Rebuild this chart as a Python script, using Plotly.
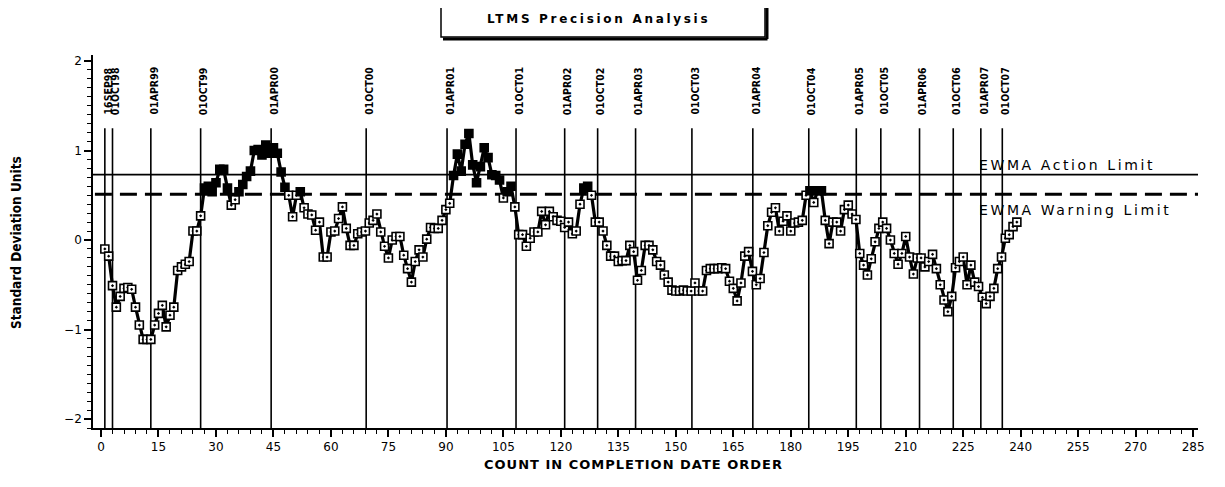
import plotly.graph_objects as go

# ---------------- data ----------------
ewma = [
    -0.10, -0.18, -0.51, -0.75, -0.63, -0.54, -0.53, -0.55, -0.75, -0.95,
    -1.11, -1.11, -1.11, -0.95, -0.82, -0.73, -0.97, -0.84, -0.75, -0.34,
    -0.30, -0.27, -0.24, 0.10, 0.10, 0.27, 0.58, 0.60, 0.54, 0.64,
    0.79, 0.79, 0.58, 0.39, 0.45, 0.54, 0.62, 0.71, 0.77, 1.00,
    1.01, 0.95, 1.06, 0.97, 1.03, 0.97, 0.76, 0.59, 0.50, 0.26,
    0.50, 0.54, 0.36, 0.29, 0.28, 0.11, 0.20, -0.19, -0.19, 0.09,
    0.10, 0.24, 0.37, 0.13, -0.06, -0.06, 0.07, 0.09, 0.10, 0.19,
    0.22, 0.29, 0.09, -0.07, -0.20, 0.00, 0.04, 0.04, -0.17, -0.32,
    -0.47, -0.24, -0.11, -0.19, 0.01, 0.14, 0.13, 0.13, 0.22, 0.34,
    0.41, 0.72, 0.96, 0.77, 1.07, 1.19, 0.84, 0.64, 0.82, 1.03,
    0.92, 0.73, 0.72, 0.67, 0.47, 0.54, 0.60, 0.37, 0.06, 0.06,
    -0.07, 0.02, 0.09, 0.09, 0.32, 0.17, 0.32, 0.26, 0.22, 0.21,
    0.14, 0.20, 0.07, 0.10, 0.40, 0.58, 0.60, 0.50, 0.20, 0.20,
    0.10, -0.06, -0.18, -0.18, -0.24, -0.23, -0.23, -0.06, -0.13, -0.45,
    -0.34, -0.06, -0.06, -0.11, -0.24, -0.28, -0.39, -0.47, -0.56, -0.57,
    -0.57, -0.56, -0.57, -0.57, -0.48, -0.57, -0.57, -0.34, -0.32, -0.32,
    -0.32, -0.31, -0.32, -0.46, -0.54, -0.68, -0.48, -0.18, -0.13, -0.35,
    -0.50, -0.43, -0.14, 0.16, 0.31, 0.36, 0.10, 0.21, 0.27, 0.10,
    0.19, 0.20, 0.22, 0.50, 0.55, 0.42, 0.55, 0.55, 0.22, -0.04,
    0.20, 0.20, 0.10, 0.34, 0.39, 0.29, 0.23, -0.15, -0.28, -0.39,
    -0.21, -0.02, 0.13, 0.20, 0.13, 0.00, -0.15, -0.27, -0.15, 0.04,
    -0.19, -0.38, -0.20, -0.20, -0.30, -0.24, -0.16, -0.32, -0.50, -0.67,
    -0.80, -0.63, -0.31, -0.24, -0.19, -0.50, -0.28, -0.47, -0.52, -0.64,
    -0.71, -0.63, -0.54, -0.32, -0.19, 0.02, 0.06, 0.15, 0.20,
]
counts = list(range(1, len(ewma) + 1))

date_labels = ["16SEP98", "01OCT98", "01APR99", "01OCT99", "01APR00", "01OCT00",
               "01APR01", "01OCT01", "01APR02", "01OCT02", "01APR03", "01OCT03",
               "01APR04", "01OCT04", "01APR05", "01OCT05", "01APR06", "01OCT06",
               "01APR07", "01OCT07"]
date_counts = [1, 3, 13, 26, 44.4, 69.2, 90.3, 108.3, 121, 129.6, 139.5, 154.2,
               170.1, 184.7, 197.1, 203.5, 213.6, 222.4, 229.6, 235.2]

action_limit = 0.73
warning_limit = 0.51

x_ticks = list(range(0, 286, 15))
y_ticks = [-2, -1, 0, 1, 2]

# ---------------- layout geometry (page pixels) ----------------
PAGE_W, PAGE_H = 1225, 487
OFF = 8                      # default body margin of the html page
W, H = PAGE_W - 2 * OFF, PAGE_H - 2 * OFF
L, R, T, B = 93, 1198, 55, 428
XR = [-2.09, 286.27]
YR = [-2.10, 2.067]

WIDE = "DejaVu Sans, Verdana, sans-serif"
NARROW = "Liberation Sans Narrow, Arial Narrow, DejaVu Sans Condensed, sans-serif"


def xp(px):
    return (px - L) / (R - L)


def yp(py):
    return (B - py) / (B - T)


def spaced(txt, px):
    return '<span style="letter-spacing:%spx">%s</span>' % (px, txt)


fig = go.Figure()

symbols = ["square" if v > warning_limit else "square-dot" for v in ewma]
fills = ["black" if v > warning_limit else "white" for v in ewma]

fig.add_trace(go.Scatter(
    x=counts, y=ewma, mode="lines+markers",
    line=dict(color="black", width=3.2),
    marker=dict(symbol=symbols, color=fills, size=8,
                line=dict(color="black", width=1.6)),
    showlegend=False, hoverinfo="x+y",
))

shapes = []
shapes.append(dict(type="line", xref="x", yref="y", x0=XR[0], x1=XR[1],
                   y0=action_limit, y1=action_limit,
                   line=dict(color="black", width=1.8), layer="below"))
shapes.append(dict(type="line", xref="x", yref="y", x0=XR[0] + 0.5, x1=XR[1],
                   y0=warning_limit, y1=warning_limit,
                   line=dict(color="black", width=3, dash="17px,8px"), layer="below"))
for dc in date_counts:
    shapes.append(dict(type="line", xref="x", yref="y", x0=dc, x1=dc,
                       y0=YR[0], y1=1.25, line=dict(color="black", width=1.6),
                       layer="below"))
# title box with shadow
shapes.append(dict(type="rect", xref="paper", yref="paper",
                   x0=xp(441), x1=xp(765), y0=yp(37), y1=yp(-2),
                   line=dict(color="black", width=1.5), fillcolor="white"))
shapes.append(dict(type="line", xref="paper", yref="paper",
                   x0=xp(443), x1=xp(767.5), y0=yp(39), y1=yp(39),
                   line=dict(color="black", width=3)))
shapes.append(dict(type="line", xref="paper", yref="paper",
                   x0=xp(767), x1=xp(767), y0=yp(1), y1=yp(39),
                   line=dict(color="black", width=3)))

annotations = []
for lab, dc in zip(date_labels, date_counts):
    annotations.append(dict(
        x=dc + 0.7, y=yp(117), xref="x", yref="paper", text="<b>" + lab + "</b>",
        textangle=-90, showarrow=False, xanchor="center", yanchor="bottom",
        font=dict(family=NARROW, size=10.5, color="black")))

annotations.append(dict(x=xp(598), y=yp(19), xref="paper", yref="paper",
                        text="<b>" + spaced("LTMS Precision Analysis", 2.7) + "</b>",
                        showarrow=False, xanchor="center", yanchor="middle",
                        font=dict(family=WIDE, size=12, color="black")))
annotations.append(dict(x=xp(977), y=yp(165), xref="paper", yref="paper",
                        text=spaced("EWMA Action Limit", 2.6), showarrow=False,
                        xanchor="left", yanchor="middle",
                        font=dict(family=WIDE, size=14, color="black")))
annotations.append(dict(x=xp(977), y=yp(210), xref="paper", yref="paper",
                        text=spaced("EWMA Warning Limit", 2.6), showarrow=False,
                        xanchor="left", yanchor="middle",
                        font=dict(family=WIDE, size=14, color="black")))
annotations.append(dict(x=xp(633), y=yp(464), xref="paper", yref="paper",
                        text="<b>" + spaced("COUNT IN COMPLETION DATE ORDER", 1) + "</b>",
                        showarrow=False, xanchor="center", yanchor="middle",
                        font=dict(family=WIDE, size=13, color="black")))
annotations.append(dict(x=xp(16), y=yp(243), xref="paper", yref="paper",
                        text="<b>Standard Deviation Units</b>", showarrow=False,
                        textangle=-90, xanchor="center", yanchor="middle",
                        font=dict(family=NARROW, size=13.5, color="black")))

fig.update_layout(
    width=W, height=H,
    margin=dict(l=L - OFF, r=W - (R - OFF), t=T - OFF, b=H - (B - OFF),
                pad=0, autoexpand=False),
    paper_bgcolor="white", plot_bgcolor="white",
    shapes=shapes, annotations=annotations,
    xaxis=dict(range=XR, tickmode="array", tickvals=x_ticks,
               ticktext=[str(v) for v in x_ticks], automargin=False,
               ticks="outside", ticklen=7, tickwidth=1.5, tickcolor="black",
               showline=True, linecolor="black", linewidth=1.6,
               showgrid=False, zeroline=False,
               tickfont=dict(family=WIDE, size=12, color="black"),
               minor=dict(dtick=3, tick0=0, ticks="outside", ticklen=4,
                          tickwidth=1.2, tickcolor="black", showgrid=False)),
    yaxis=dict(range=YR, tickmode="array", tickvals=y_ticks,
               ticktext=["\u22122", "\u22121", "0", "1", "2"], automargin=False,
               ticks="outside", ticklen=7, tickwidth=1.5, tickcolor="black",
               showline=True, linecolor="black", linewidth=1.6,
               showgrid=False, zeroline=False,
               tickfont=dict(family=WIDE, size=12, color="black"),
               minor=dict(dtick=0.1, tick0=0, ticks="outside", ticklen=4,
                          tickwidth=1.2, tickcolor="black", showgrid=False)),
)

fig.write_html("out.html")
